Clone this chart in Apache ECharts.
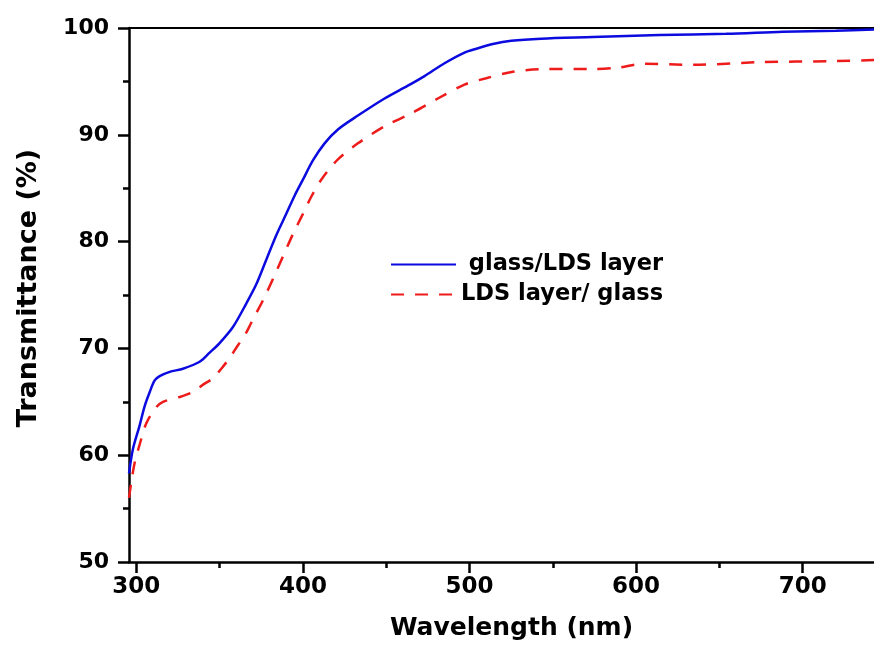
<!DOCTYPE html>
<html>
<head>
<meta charset="utf-8">
<script src="https://cdn.jsdelivr.net/npm/echarts@6/dist/echarts.min.js"></script>
<style>html,body{margin:0;padding:0;background:#fff}#c{width:874px;height:653px}</style>
</head>
<body>
<div id="c"></div>
<script>
// Data
const seriesNames = ['glass/LDS layer', 'LDS layer/ glass'];
const blueData = [[295.6,58.3],[298,60.6],[302,62.8],[305,64.6],[308,65.9],[311,67.0],[314,67.4],[320,67.8],[328,68.1],[338,68.75],[344,69.6],[350,70.5],[358,72.0],[366,74.2],[372,76.0],[378,78.3],[384,80.6],[390,82.6],[395,84.3],[400,85.8],[406,87.6],[413,89.2],[421,90.5],[433,91.8],[449,93.4],[463,94.6],[473,95.5],[485,96.7],[497,97.7],[505,98.1],[514,98.5],[525,98.8],[543,99.0],[574,99.15],[614,99.35],[654,99.45],[688,99.65],[720,99.75],[742.8,99.85]];
const redData = [[295.6,56.0],[297,57.5],[299,59.3],[302,61.0],[306,63.0],[312,64.5],[316,65.0],[327,65.5],[333,65.85],[341,66.7],[346,67.2],[351,68.1],[356,69.1],[361,70.3],[365,71.2],[369,72.4],[372,73.3],[376,74.5],[382,76.5],[388,78.6],[394,80.7],[400,82.6],[405,84.2],[411,85.8],[421,87.7],[433,89.2],[449,90.8],[465,92.0],[481,93.4],[497,94.7],[510,95.3],[526,95.9],[544,96.15],[574,96.15],[590,96.3],[604,96.65],[634,96.55],[674,96.8],[718,96.9],[742.8,97.0]];
const xMajorTicks = [300, 400, 500, 600, 700];
const xMinorTicks = [350, 450, 550, 650];
const xRange = [295.6, 742.8];
const yRange = [50, 100];

const FONT = 'DejaVu Sans';
const chart = echarts.init(document.getElementById('c'));
const axisLine = {show: true, lineStyle: {color: '#000', width: 2.5}};
chart.setOption({
  animation: false,
  backgroundColor: '#fff',
  grid: {left: 129, right: 0, top: 28, bottom: 91, containLabel: false},
  legend: {
    orient: 'vertical', left: 390, top: 253, padding: 0,
    itemWidth: 65, itemHeight: 14, itemGap: 7,
    data: seriesNames,
    itemStyle: {opacity: 0, borderWidth: 0},
    formatter: n => n === seriesNames[0] ? ' ' + n : n,
    textStyle: {fontFamily: FONT, fontWeight: 'bold', fontSize: 22.5, color: '#000', lineHeight: 22}
  },
  xAxis: [
    {
      type: 'value', min: xRange[0], max: xRange[1], position: 'bottom',
      axisLine: axisLine,
      splitLine: {show: false},
      axisTick: {show: true, length: 11, customValues: xMajorTicks, lineStyle: {color: '#000', width: 2.5}},
      axisLabel: {customValues: xMajorTicks, margin: 14, color: '#000', fontFamily: FONT, fontWeight: 'bold', fontSize: 23},
      name: 'Wavelength (nm)', nameLocation: 'middle', nameGap: 54,
      nameTextStyle: {fontFamily: FONT, fontWeight: 'bold', fontSize: 25, color: '#000', padding: [0, 0, 0, 20]}
    },
    {
      type: 'value', min: xRange[0], max: xRange[1], position: 'bottom',
      axisLine: {show: false}, splitLine: {show: false},
      axisTick: {show: true, length: 6, customValues: xMinorTicks, lineStyle: {color: '#000', width: 2.5}},
      axisLabel: {show: false}
    },
    {
      type: 'value', min: xRange[0], max: xRange[1], position: 'top',
      axisLine: {show: true, lineStyle: {color: '#000', width: 2}},
      splitLine: {show: false}, axisTick: {show: false}, axisLabel: {show: false}
    }
  ],
  yAxis: {
    type: 'value', min: yRange[0], max: yRange[1], interval: 10,
    axisLine: axisLine,
    splitLine: {show: false},
    axisTick: {show: true, length: 11, lineStyle: {color: '#000', width: 2.5}},
    minorTick: {show: true, splitNumber: 2, length: 6, lineStyle: {color: '#000', width: 2.5}},
    axisLabel: {margin: 20, color: '#000', fontFamily: FONT, fontWeight: 'bold', fontSize: 22},
    name: 'Transmittance (%)', nameLocation: 'middle', nameGap: 87,
    nameTextStyle: {fontFamily: FONT, fontWeight: 'bold', fontSize: 27, color: '#000', padding: [0, 0, 0, 14]}
  },
  series: [
    {
      name: seriesNames[0], type: 'line', data: blueData, xAxisIndex: 0,
      symbol: 'none', smooth: 0.3, clip: true,
      lineStyle: {color: '#0b0be0', width: 2.5}, itemStyle: {color: '#0b0be0'}
    },
    {
      name: seriesNames[1], type: 'line', data: redData, xAxisIndex: 0,
      symbol: 'none', smooth: 0.3, clip: true,
      lineStyle: {color: '#ee1b1b', width: 2.5, type: [13, 11]}, itemStyle: {color: '#ee1b1b'}
    }
  ]
});
</script>
</body>
</html>
